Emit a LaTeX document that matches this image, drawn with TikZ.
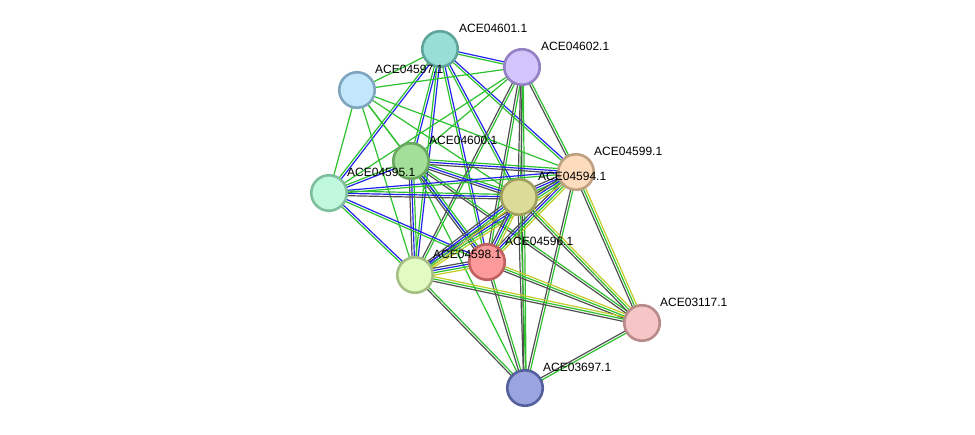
\documentclass[tikz,border=0pt]{standalone}
\usepackage{fontspec}
\setmainfont{Liberation Sans}
\usetikzlibrary{calc}
\pgfdeclarelayer{bg}
\pgfsetlayers{bg,main}
\definecolor{cg}{HTML}{2EC12E}
\definecolor{cb}{HTML}{2323F0}
\definecolor{ck}{HTML}{505050}
\definecolor{cy}{HTML}{C2CB2A}
\newcommand\sedge[3]{%
  \foreach \cc [count=\ii] in {#3}{\xdef\nch{\ii}}%
  \foreach \cc [count=\ii] in {#3}{%
    \pgfmathsetmacro\off{(\ii-(\nch+1)/2)*2.3}%
    \draw[edge,color=c\cc] ($(#1.center)!\off pt!90:(#2.center)$) -- ($(#2.center)!\off pt!-90:(#1.center)$);
  }%
}
\begin{document}
\begin{tikzpicture}[x=1pt,y=-1pt,
  prot/.style={circle, minimum size=35.5pt, inner sep=0pt, line width=2.6pt},
  lbl/.style={font=\fontsize{12}{14}\selectfont, anchor=base west, inner sep=0pt},
  edge/.style={line width=1.2pt}]
\useasboundingbox (0,0) rectangle (975,434);
\node[prot, fill={rgb,255:red,151;green,223;blue,214}, draw={rgb,255:red,95;green,165;blue,155}] (A) at (440,49) {};
\node[prot, fill={rgb,255:red,212;green,196;blue,252}, draw={rgb,255:red,147;green,129;blue,195}] (B) at (522,67) {};
\node[prot, fill={rgb,255:red,194;green,230;blue,250}, draw={rgb,255:red,127;green,165;blue,191}] (C) at (357,90) {};
\node[prot, fill={rgb,255:red,163;green,223;blue,152}, draw={rgb,255:red,106;green,167;blue,96}] (D) at (411,161) {};
\node[prot, fill={rgb,255:red,191;green,248;blue,219}, draw={rgb,255:red,127;green,191;blue,157}] (E) at (329,193) {};
\node[prot, fill={rgb,255:red,253;green,220;blue,189}, draw={rgb,255:red,192;green,160;blue,131}] (F) at (576,172) {};
\node[prot, fill={rgb,255:red,220;green,220;blue,152}, draw={rgb,255:red,160;green,160;blue,96}] (G) at (519,197) {};
\node[prot, fill={rgb,255:red,252;green,153;blue,153}, draw={rgb,255:red,192;green,96;blue,96}] (H) at (487,262) {};
\node[prot, fill={rgb,255:red,225;green,251;blue,195}, draw={rgb,255:red,165;green,191;blue,133}] (I) at (415,275) {};
\node[prot, fill={rgb,255:red,246;green,198;blue,198}, draw={rgb,255:red,184;green,138;blue,138}] (J) at (642,323) {};
\node[prot, fill={rgb,255:red,154;green,165;blue,224}, draw={rgb,255:red,84;green,96;blue,156}] (K) at (525,388) {};
\node[lbl] (lA) at ($(A)+(19,-17)$) {ACE04601.1};
\node[lbl] (lB) at ($(B)+(19,-17)$) {ACE04602.1};
\node[lbl] (lC) at ($(C)+(18,-17)$) {ACE04597.1};
\node[lbl] (lD) at ($(D)+(18,-17)$) {ACE04600.1};
\node[lbl] (lE) at ($(E)+(18,-17)$) {ACE04595.1};
\node[lbl] (lF) at ($(F)+(18,-17)$) {ACE04599.1};
\node[lbl] (lG) at ($(G)+(19,-17)$) {ACE04594.1};
\node[lbl] (lH) at ($(H)+(18,-17)$) {ACE04596.1};
\node[lbl] (lI) at ($(I)+(18,-17)$) {ACE04598.1};
\node[lbl] (lJ) at ($(J)+(18,-17)$) {ACE03117.1};
\node[lbl] (lK) at ($(K)+(18,-17)$) {ACE03697.1};
\begin{pgfonlayer}{bg}
\fill[white] (0,0) rectangle (975,434);
\sedge{A}{B}{g,b}
\sedge{A}{C}{g}
\sedge{A}{D}{g,b}
\sedge{A}{E}{g,b}
\sedge{A}{F}{g,b}
\sedge{A}{G}{g,b}
\sedge{A}{H}{g,b}
\sedge{A}{I}{g,b}
\sedge{B}{C}{g}
\sedge{B}{D}{g}
\sedge{B}{E}{g}
\sedge{B}{F}{k,g}
\sedge{B}{G}{k,g}
\sedge{B}{H}{k,g}
\sedge{B}{I}{k,g}
\sedge{B}{K}{k,g}
\sedge{C}{D}{g}
\sedge{C}{E}{g}
\sedge{C}{F}{g}
\sedge{C}{G}{g}
\sedge{C}{H}{g}
\sedge{C}{I}{g}
\sedge{D}{E}{g,b}
\sedge{D}{F}{k,b,g}
\sedge{D}{G}{k,b,g}
\sedge{D}{H}{k,b,g}
\sedge{D}{I}{k,b,g}
\sedge{D}{J}{k,g}
\sedge{D}{K}{g}
\sedge{E}{F}{g,b}
\sedge{E}{G}{k,b,g}
\sedge{E}{H}{g,b}
\sedge{E}{I}{g,b}
\sedge{F}{G}{k,b,g,y}
\sedge{F}{H}{k,b,g,y}
\sedge{F}{I}{k,b,g,y}
\sedge{F}{J}{k,g,y}
\sedge{F}{K}{k,g}
\sedge{G}{H}{k,b,g,y}
\sedge{G}{I}{k,b,g,y}
\sedge{G}{J}{k,g,y}
\sedge{G}{K}{k,g}
\sedge{H}{I}{k,b,g,y}
\sedge{H}{J}{k,g,y}
\sedge{H}{K}{k,g}
\sedge{I}{J}{k,g,y}
\sedge{I}{K}{k,g}
\sedge{J}{K}{k,g}
\end{pgfonlayer}
\end{tikzpicture}
\end{document}
